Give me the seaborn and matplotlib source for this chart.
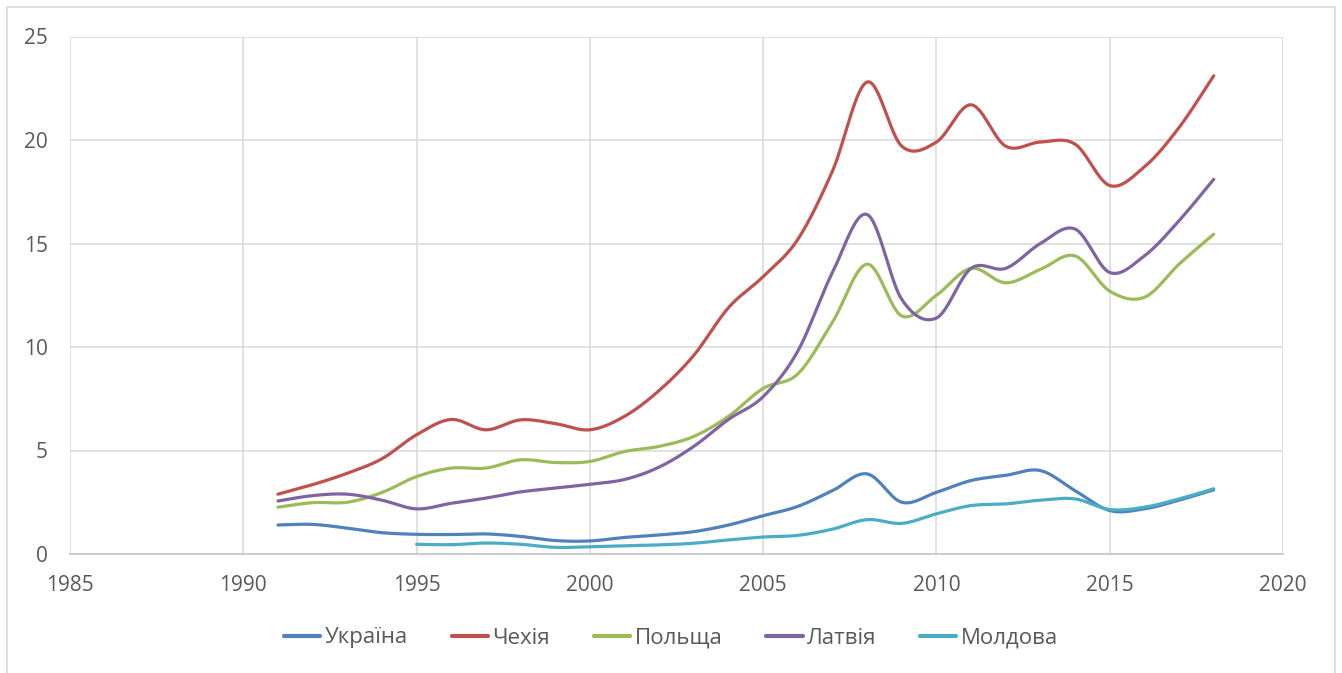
import numpy as np
import pandas as pd
import matplotlib
matplotlib.use("Agg")
import matplotlib.pyplot as plt
import seaborn as sns
from matplotlib.patches import Rectangle

years = list(range(1991, 2019))
ukraine = [1.4, 1.43, 1.25, 1.03, 0.95, 0.94, 0.97, 0.85, 0.65, 0.63, 0.8, 0.92, 1.08, 1.4,
           1.85, 2.3, 3.06, 3.87, 2.5, 2.98, 3.55, 3.8, 4.03, 3.06, 2.1, 2.18, 2.6, 3.1]
czech = [2.89, 3.35, 3.9, 4.6, 5.76, 6.5, 6.0, 6.48, 6.3, 6.0, 6.65, 7.9, 9.6, 11.9,
         13.4, 15.2, 18.5, 22.8, 19.7, 19.9, 21.7, 19.7, 19.9, 19.8, 17.8, 18.7, 20.6, 23.1]
poland = [2.26, 2.48, 2.5, 2.97, 3.74, 4.15, 4.15, 4.55, 4.42, 4.47, 4.95, 5.2, 5.68, 6.65,
          8.0, 8.7, 11.2, 14.0, 11.5, 12.5, 13.8, 13.1, 13.75, 14.4, 12.7, 12.4, 14.0, 15.45]
latvia = [2.56, 2.82, 2.89, 2.6, 2.18, 2.45, 2.7, 3.0, 3.18, 3.37, 3.6, 4.2, 5.2, 6.5,
          7.6, 9.8, 13.6, 16.4, 12.3, 11.4, 13.8, 13.8, 15.0, 15.7, 13.6, 14.4, 16.1, 18.1]
moldova = [None, None, None, None, 0.47, 0.45, 0.53, 0.47, 0.32, 0.35, 0.4, 0.44, 0.52, 0.68,
           0.82, 0.9, 1.2, 1.66, 1.48, 1.94, 2.34, 2.42, 2.6, 2.66, 2.15, 2.26, 2.66, 3.15]

series_names = ["Україна", "Чехія", "Польща", "Латвія", "Молдова"]
series_values = [ukraine, czech, poland, latvia, moldova]
colors = ["#4F81BD", "#C0504D", "#9BBB59", "#8064A2", "#4BACC6"]
x_ticks = [1985, 1990, 1995, 2000, 2005, 2010, 2015, 2020]
y_ticks = [0, 5, 10, 15, 20, 25]


def smooth(xs, ys, n=30):
    """Bezier smoothing through the points (Excel-like smoothed line)."""
    P = np.column_stack([xs, ys]).astype(float)
    m = len(P)
    out = []
    for i in range(m - 1):
        p0 = P[i - 1] if i > 0 else P[i]
        p1 = P[i]
        p2 = P[i + 1]
        p3 = P[i + 2] if i + 2 < m else P[i + 1]
        c1 = p1 + (p2 - p0) / 6.0
        c2 = p2 - (p3 - p1) / 6.0
        t = np.linspace(0, 1, n, endpoint=(i == m - 2))[:, None]
        seg = ((1 - t) ** 3) * p1 + 3 * ((1 - t) ** 2) * t * c1 + 3 * (1 - t) * t ** 2 * c2 + t ** 3 * p2
        out.append(seg)
    return np.vstack(out)


rows = []
for name, vals in zip(series_names, series_values):
    pts = [(x, v) for x, v in zip(years, vals) if v is not None]
    xs = [p[0] for p in pts]
    ys = [p[1] for p in pts]
    curve = smooth(xs, ys)
    for k, (cx, cy) in enumerate(curve):
        rows.append({"order": k, "Рік": cx, "Значення": cy, "Країна": name})
df = pd.DataFrame(rows)

sns.set_theme(style="white")
plt.rcParams["font.family"] = ["Open Sans", "DejaVu Sans"]

fig = plt.figure(figsize=(13.42, 6.73), dpi=100)
ax = fig.add_axes([70 / 1342, 1 - 554 / 673, (1283 - 70) / 1342, (554 - 36.5) / 673])

sns.lineplot(data=df, x="Рік", y="Значення", hue="Країна", hue_order=series_names,
             palette=colors, units="Країна", estimator=None, sort=False,
             linewidth=2.3, ax=ax)

ax.set_xlim(1985, 2020)
ax.set_ylim(0, 25)
ax.set_xticks(x_ticks)
ax.set_yticks(y_ticks)
ax.set_xlabel("")
ax.set_ylabel("")
ax.grid(True, color="#D9D9D9", linewidth=1.1)
ax.set_axisbelow(True)
for s in ["top", "right", "left"]:
    ax.spines[s].set_visible(False)
ax.spines["bottom"].set_color("#C8C8C8")
ax.spines["bottom"].set_linewidth(1.3)
ax.tick_params(axis="both", length=0, labelsize=15, labelcolor="#595959")
ax.tick_params(axis="y", pad=16)
ax.tick_params(axis="x", pad=15)

sns.move_legend(ax, "center", bbox_to_anchor=(0.5, 1 - 638 / 673), bbox_transform=fig.transFigure,
                ncol=5, frameon=False, title=None, fontsize=16, handlelength=1.65,
                handletextpad=0.2, columnspacing=1.95)
for t in ax.get_legend().get_texts():
    t.set_color("#595959")
for h in ax.get_legend().get_lines():
    h.set_linewidth(3)

fig.patches.append(Rectangle((7 / 1342, -0.02), (1335 - 7) / 1342, 1.02 - 7 / 673,
                             transform=fig.transFigure, fill=False,
                             edgecolor="#D9D9D9", linewidth=1.2))

fig.savefig("out.png", dpi=100, facecolor="white")
